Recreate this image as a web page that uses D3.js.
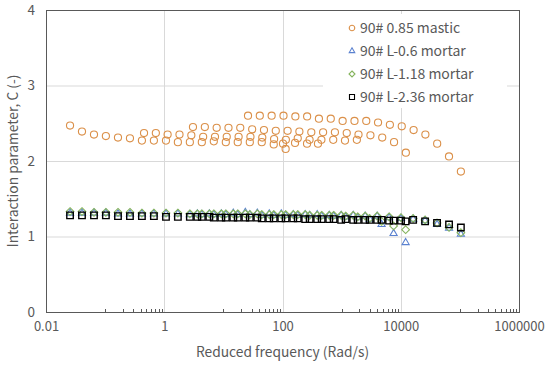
<!DOCTYPE html>
<html>
<head>
<meta charset="utf-8">
<script src="https://cdn.jsdelivr.net/npm/d3@7"></script>
<style>
body { margin: 0; background: #fff; }
svg text { font-family: "Noto Sans CJK SC", "Noto Sans", sans-serif; fill: #595959; }
</style>
</head>
<body>
<svg width="550" height="365"></svg>
<script>
// tick labels
var xTicks = [0.01, 1, 100, 10000, 1000000];
var yTicks = [0, 1, 2, 3, 4];

// mastic (several overlapping temperature groups)
var masticF1 = [0.0255, 0.0406, 0.0648, 0.103, 0.165, 0.263, 0.419, 0.668, 1.07, 1.70, 2.71, 4.32, 6.89, 11.0, 17.5, 28.0, 44.6, 71.1, 113];
var masticC1 = [2.47, 2.39, 2.35, 2.33, 2.31, 2.30, 2.27, 2.27, 2.27, 2.25, 2.25, 2.25, 2.26, 2.25, 2.25, 2.25, 2.25, 2.22, 2.16];
var masticF2 = [0.455, 0.721, 1.14, 1.81, 2.87, 4.55, 7.21, 11.4, 18.1, 28.7, 45.5, 72.1, 114, 181, 287, 455, 721, 1140, 1810];
var masticC2 = [2.37, 2.37, 2.35, 2.35, 2.34, 2.32, 2.32, 2.32, 2.32, 2.32, 2.31, 2.29, 2.28, 2.30, 2.28, 2.28, 2.28, 2.27, 2.28];
var masticF3 = [3.06, 4.86, 7.70, 12.2, 19.3, 30.7, 48.6, 77.0, 122, 193, 307, 486, 770, 1220, 1930, 3070, 4860, 7700, 12200];
var masticC3 = [2.45, 2.45, 2.44, 2.44, 2.44, 2.42, 2.41, 2.40, 2.40, 2.39, 2.38, 2.38, 2.38, 2.37, 2.35, 2.34, 2.31, 2.25, 2.11];
var masticF4 = [26.1, 41.3, 65.5, 104, 165, 261, 413, 655, 1040, 1650, 2610, 4130, 6550, 10400, 16500, 26100, 41300, 65500, 104000];
var masticC4 = [2.60, 2.60, 2.60, 2.60, 2.59, 2.59, 2.56, 2.56, 2.53, 2.53, 2.53, 2.51, 2.48, 2.46, 2.41, 2.35, 2.23, 2.06, 1.86];
var masticF5 = [102, 163, 260, 398];
var masticC5 = [2.23, 2.24, 2.23, 2.23];

// mortars share two frequency sets
var mortarFA = [0.0255, 0.0406, 0.0648, 0.103, 0.165, 0.263, 0.419, 0.668, 1.07, 1.70, 2.71, 4.32, 6.89, 11.0, 17.5, 28.0, 44.6, 71.1, 113, 181, 288, 460, 733, 1170, 1870, 2980, 4740, 7570, 12100];
var mortarFB = [3.63, 5.79, 9.23, 14.7, 23.5, 37.5, 59.7, 95.3, 152, 242, 386, 617, 982, 1570, 2500, 3990, 6350, 10100, 16200, 25800, 41100, 65600, 104000];

var m06A = [1.31, 1.31, 1.31, 1.31, 1.30, 1.30, 1.30, 1.30, 1.30, 1.30, 1.29, 1.29, 1.29, 1.29, 1.29, 1.29, 1.28, 1.28, 1.28, 1.28, 1.28, 1.27, 1.27, 1.26, 1.25, 1.23, 1.16, 1.04, 0.92];
var m06B = [1.30, 1.30, 1.30, 1.31, 1.32, 1.31, 1.30, 1.30, 1.29, 1.29, 1.29, 1.28, 1.28, 1.28, 1.27, 1.27, 1.25, 1.24, 1.23, 1.21, 1.16, 1.11, 1.03];
var m118A = [1.33, 1.33, 1.32, 1.32, 1.32, 1.32, 1.31, 1.31, 1.31, 1.31, 1.30, 1.30, 1.30, 1.30, 1.30, 1.29, 1.29, 1.29, 1.29, 1.29, 1.28, 1.28, 1.28, 1.27, 1.26, 1.24, 1.20, 1.14, 1.09];
var m118B = [1.30, 1.30, 1.30, 1.30, 1.30, 1.30, 1.29, 1.29, 1.29, 1.29, 1.28, 1.28, 1.28, 1.28, 1.27, 1.27, 1.26, 1.25, 1.24, 1.22, 1.18, 1.12, 1.05];
var m236A = [1.28, 1.28, 1.28, 1.28, 1.27, 1.27, 1.27, 1.27, 1.26, 1.26, 1.26, 1.26, 1.25, 1.25, 1.25, 1.25, 1.24, 1.24, 1.24, 1.24, 1.23, 1.23, 1.23, 1.23, 1.22, 1.22, 1.22, 1.21, 1.20];
var m236B = [1.26, 1.26, 1.25, 1.25, 1.25, 1.25, 1.24, 1.24, 1.24, 1.23, 1.23, 1.23, 1.22, 1.22, 1.22, 1.22, 1.21, 1.21, 1.22, 1.20, 1.18, 1.16, 1.12];

var names = ["90# 0.85 mastic", "90# L-0.6 mortar", "90# L-1.18 mortar", "90# L-2.36 mortar"];

function pairs(f, c) { return f.map(function(d, i) { return [d, c[i]]; }); }

var series = [
  {name: names[0], color: "#DB9049", sym: d3.symbolCircle, size: 40,
   pts: [].concat(pairs(masticF1, masticC1), pairs(masticF2, masticC2), pairs(masticF3, masticC3),
                  pairs(masticF4, masticC4), pairs(masticF5, masticC5))},
  {name: names[1], color: "#5B82D0", sym: d3.symbolTriangle, size: 22,
   pts: [].concat(pairs(mortarFA, m06A), pairs(mortarFB, m06B))},
  {name: names[2], color: "#86B45E", sym: d3.symbolDiamond2, size: 38,
   pts: [].concat(pairs(mortarFA, m118A), pairs(mortarFB, m118B))},
  {name: names[3], color: "#000000", sym: d3.symbolSquare, size: 42,
   pts: [].concat(pairs(mortarFA, m236A), pairs(mortarFB, m236B))}
];

var svg = d3.select("svg"),
    margin = {top: 10, right: 31, bottom: 53, left: 46},
    width = 550 - margin.left - margin.right,
    height = 365 - margin.top - margin.bottom;

var x = d3.scaleLog().domain([0.01, 1000000]).range([0, width]);
var y = d3.scaleLinear().domain([0, 4]).range([height, 0]);

var g = svg.append("g")
    .attr("transform", "translate(" + margin.left + "," + margin.top + ")");

// gridlines
g.append("g").selectAll("line")
    .data(yTicks.slice(1, -1))
  .enter().append("line")
    .attr("x1", 0).attr("x2", width)
    .attr("y1", function(d) { return y(d) + 0.5; }).attr("y2", function(d) { return y(d) + 0.5; })
    .attr("stroke", "#D9D9D9");
g.append("g").selectAll("line")
    .data(xTicks.slice(1, -1))
  .enter().append("line")
    .attr("y1", 0).attr("y2", height)
    .attr("x1", function(d) { return Math.round(x(d)) + 0.5; }).attr("x2", function(d) { return Math.round(x(d)) + 0.5; })
    .attr("stroke", "#D9D9D9");

// minor ticks on x axis (inside)
var minor = [];
[0.1, 10, 1000, 100000].forEach(function(b) {
  for (var m = 1; m <= 9; m++) minor.push(b * m);
});
g.append("g").selectAll("line")
    .data(minor)
  .enter().append("line")
    .attr("x1", function(d) { return Math.round(x(d)) + 0.5; }).attr("x2", function(d) { return Math.round(x(d)) + 0.5; })
    .attr("y1", height).attr("y2", height - 3)
    .attr("stroke", "#595959");

// axes
var xAxis = g.append("g")
    .attr("transform", "translate(0," + height + ")")
    .call(d3.axisBottom(x).tickValues(xTicks).tickSize(0).tickPadding(10)
      .tickFormat(function(d) { return d < 1 ? String(d) : d3.format("d")(d); }));
xAxis.select(".domain").remove();
xAxis.selectAll("text").style("font-size", "13px");

var yAxis = g.append("g")
    .call(d3.axisLeft(y).tickValues(yTicks).tickSize(0).tickPadding(11).tickFormat(d3.format("d")));
yAxis.select(".domain").remove();
yAxis.selectAll("text").style("font-size", "13.5px");

// plot frame
g.append("rect")
    .attr("x", 0.5).attr("y", 0.5)
    .attr("width", width).attr("height", height)
    .attr("fill", "none").attr("stroke", "#595959");

// points
series.forEach(function(s) {
  g.append("g").selectAll("path")
      .data(s.pts)
    .enter().append("path")
      .attr("transform", function(d) { return "translate(" + x(d[0]) + "," + y(d[1]) + ")"; })
      .attr("d", d3.symbol().type(s.sym).size(s.size))
      .attr("fill", "none")
      .attr("stroke", s.color)
      .attr("stroke-width", s.name === names[3] ? 1.4 : 1.1);
});

// legend
var legend = g.append("g").attr("transform", "translate(277,4)");
legend.append("rect")
    .attr("width", 184).attr("height", 94).attr("fill", "#fff");
series.forEach(function(s, i) {
  var row = legend.append("g").attr("transform", "translate(29," + (14 + i * 23) + ")");
  row.append("path")
      .attr("d", d3.symbol().type(s.sym).size(s.size * 0.6))
      .attr("fill", "none").attr("stroke", s.color).attr("stroke-width", 1.1);
  row.append("text")
      .attr("x", 8).attr("dy", "0.35em")
      .style("font-size", "14px")
      .text(s.name);
});

// axis titles
svg.append("text")
    .attr("x", margin.left + width / 2).attr("y", 357)
    .attr("text-anchor", "middle")
    .style("font-size", "13.8px")
    .text("Reduced frequency (Rad/s)");
svg.append("text")
    .attr("transform", "translate(18," + (margin.top + height / 2) + ") rotate(-90)")
    .attr("text-anchor", "middle")
    .style("font-size", "13.8px")
    .text("Interaction parameter, C (-)");
</script>
</body>
</html>
